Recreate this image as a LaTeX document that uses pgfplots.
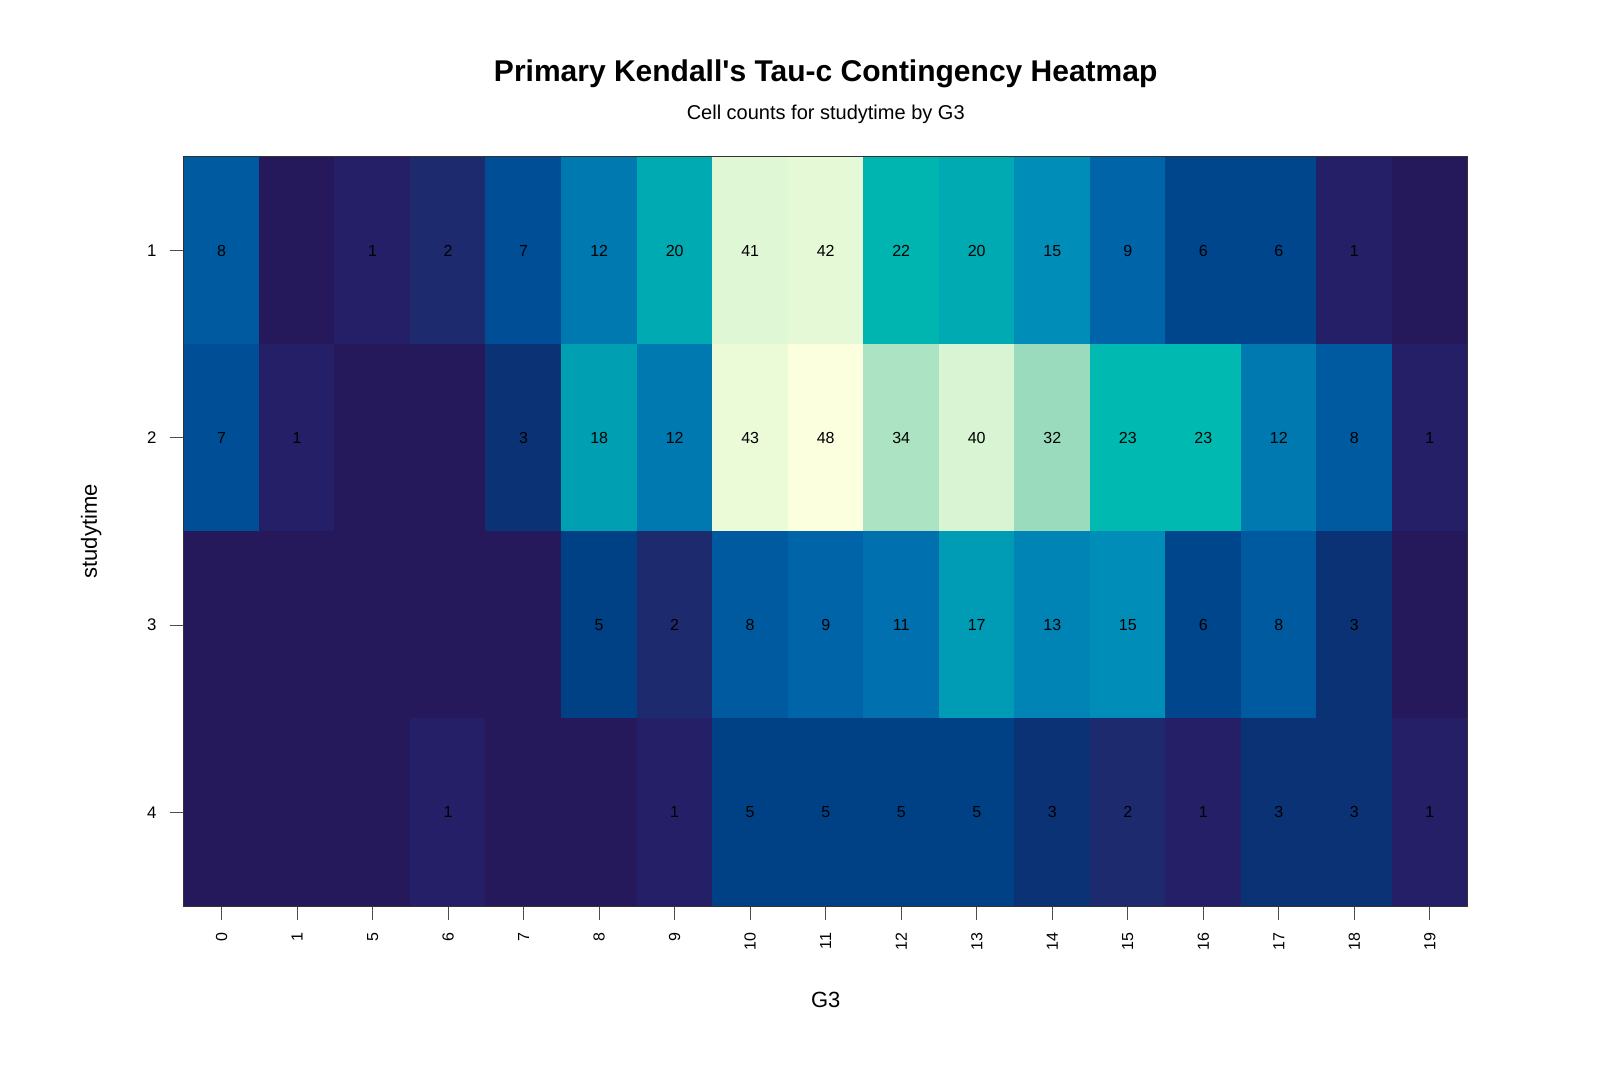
\documentclass[border=0pt]{standalone}
\usepackage{fontspec}
\setmainfont{Liberation Sans}
\usepackage{pgfplots}
\pgfplotsset{compat=1.18}
\usepackage{pgfplotstable}
\pgfplotstableread{
x y c
0 1 8
1 1 0
2 1 1
3 1 2
4 1 7
5 1 12
6 1 20
7 1 41
8 1 42
9 1 22
10 1 20
11 1 15
12 1 9
13 1 6
14 1 6
15 1 1
16 1 0
0 2 7
1 2 1
2 2 0
3 2 0
4 2 3
5 2 18
6 2 12
7 2 43
8 2 48
9 2 34
10 2 40
11 2 32
12 2 23
13 2 23
14 2 12
15 2 8
16 2 1
0 3 0
1 3 0
2 3 0
3 3 0
4 3 0
5 3 5
6 3 2
7 3 8
8 3 9
9 3 11
10 3 17
11 3 13
12 3 15
13 3 6
14 3 8
15 3 3
16 3 0
0 4 0
1 4 0
2 4 0
3 4 1
4 4 0
5 4 0
6 4 1
7 4 5
8 4 5
9 4 5
10 4 5
11 4 3
12 4 2
13 4 1
14 4 3
15 4 3
16 4 1
}\counts
\pgfplotsset{
  colormap={ylgnburev}{
    rgb255(0pt)=(37,25,91)
    rgb255(1pt)=(36,31,102)
    rgb255(2pt)=(30,42,110)
    rgb255(3pt)=(12,50,118)
    rgb255(5pt)=(0,65,133)
    rgb255(6pt)=(0,70,141)
    rgb255(7pt)=(0,79,150)
    rgb255(8pt)=(0,90,159)
    rgb255(9pt)=(0,100,168)
    rgb255(11pt)=(0,112,174)
    rgb255(12pt)=(0,121,177)
    rgb255(13pt)=(0,132,182)
    rgb255(15pt)=(0,142,184)
    rgb255(17pt)=(0,155,180)
    rgb255(18pt)=(0,160,178)
    rgb255(20pt)=(0,170,179)
    rgb255(22pt)=(0,181,176)
    rgb255(23pt)=(0,185,176)
    rgb255(32pt)=(155,219,189)
    rgb255(34pt)=(172,228,195)
    rgb255(40pt)=(216,244,211)
    rgb255(41pt)=(223,247,212)
    rgb255(42pt)=(229,249,214)
    rgb255(43pt)=(235,251,216)
    rgb255(48pt)=(251,255,221)
  }
}
\begin{document}
\begin{tikzpicture}
\begin{axis}[
  name=ax,
  scale only axis,
  width=641.9pt, height=374.5pt,
  xmin=-0.5, xmax=16.5,
  ymin=0.5, ymax=4.5,
  y dir=reverse,
  point meta min=0, point meta max=48,
  colormap name=ylgnburev,
  axis line style={draw=black!80, line width=0.5pt},
  tick align=outside,
  major tick length=7pt,
  every tick/.style={draw=black!70, line width=0.5pt},
  xtick={0,...,16},
  xticklabels={0,1,5,6,7,8,9,10,11,12,13,14,15,16,17,18,19},
  ytick={1,2,3,4},
  xtick pos=bottom, ytick pos=left,
  /pgf/number format/assume math mode=true,
  xticklabel style={rotate=90, anchor=east, inner sep=0pt, font=\fontsize{8}{9}\selectfont},
  yticklabel style={anchor=east, inner sep=0pt, font=\fontsize{8.4}{9}\selectfont},
  xticklabel shift=6pt,
  yticklabel shift=6.5pt,
  xlabel={G3},
  ylabel={studytime},
  every axis x label/.style={at={(axis description cs:0.5,0)}, yshift=-50.5pt, anchor=base, font=\fontsize{11}{13}\selectfont},
  every axis y label/.style={at={(axis description cs:0,0.5)}, xshift=-43.4pt, rotate=90, anchor=base, font=\fontsize{11}{13}\selectfont},
  axis on top,
]
\addplot[matrix plot*, mesh/cols=17, mesh/rows=4, point meta=explicit] table[x=x, y=y, meta=c] {\counts};
\addplot[only marks, mark=none, point meta=explicit,
  nodes near coords,
  every node near coord/.style={anchor=center, text=black, font=\fontsize{8}{9}\selectfont},
  x filter/.expression={\thisrow{c}==0 ? nan : x}]
  table[x=x, y=y, meta=c] {\counts};
\end{axis}
\node[anchor=base, font=\fontsize{15}{18}\selectfont\bfseries] at ([yshift=37.5pt]ax.north) {Primary Kendall\textquotesingle s Tau-c Contingency Heatmap};
\node[anchor=base, font=\fontsize{10}{12}\selectfont] at ([yshift=18.7pt]ax.north) {Cell counts for studytime by G3};
\pgfresetboundingbox
\path ([xshift=-91.9pt,yshift=-92.5pt]ax.south west) rectangle ([xshift=66.2pt,yshift=78.5pt]ax.north east);
\end{tikzpicture}
\end{document}
